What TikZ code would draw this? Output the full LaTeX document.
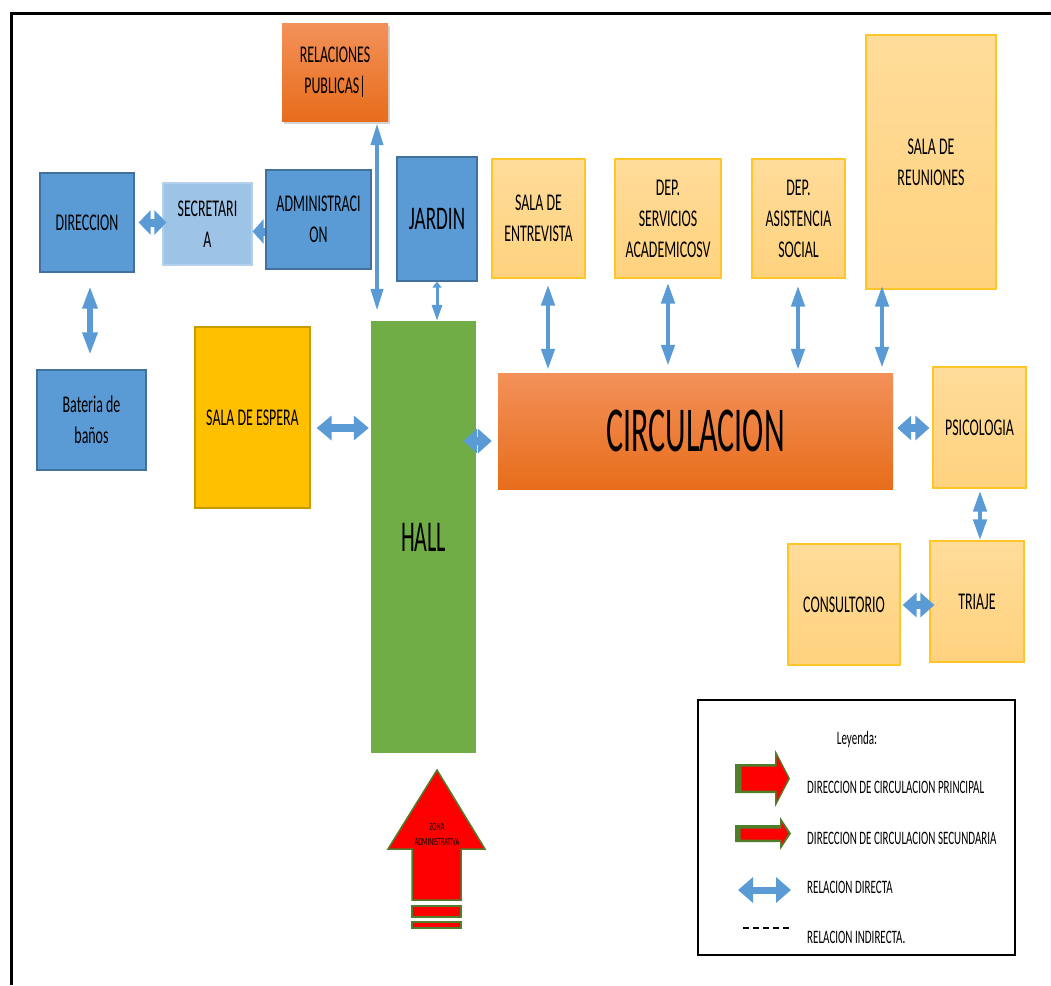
\documentclass[tikz,border=0pt]{standalone}
\usepackage{fontspec}
\setmainfont[FakeStretch=0.58]{Carlito}
\newfontfamily\bigfont[FakeStretch=0.5]{Carlito}
\usetikzlibrary{arrows.meta,shadows,positioning}

\definecolor{boxblue}{HTML}{5B9BD5}
\definecolor{boxblueline}{HTML}{41719C}
\definecolor{lightblue}{HTML}{9DC3E6}
\definecolor{lightblueline}{HTML}{B4D1EC}
\definecolor{espyellow}{HTML}{FFC000}
\definecolor{espyellowline}{HTML}{C99A00}
\definecolor{peachtop}{HTML}{FFDC9A}
\definecolor{peachbottom}{HTML}{FFD27E}
\definecolor{peachline}{HTML}{FFC629}
\definecolor{orangetop}{HTML}{F3915A}
\definecolor{orangebottom}{HTML}{E76D1B}
\definecolor{hallgreen}{HTML}{70AD47}
\definecolor{relblue}{HTML}{5B9BD5}
\definecolor{arrowgreen}{HTML}{4F7F2A}

\tikzset{
	room/.style 2 args={rectangle, inner sep=0pt, align=center, minimum width=#1pt, minimum height=#2pt, font=\fontsize{24}{31}\selectfont},
	bluebox/.style={fill=boxblue, draw=boxblueline, line width=1.2pt},
	lightbluebox/.style={fill=lightblue, draw=lightblueline, line width=1.2pt},
	peachbox/.style={top color=peachtop, bottom color=peachbottom, draw=peachline, line width=1.2pt},
	orangebox/.style={top color=orangetop, bottom color=orangebottom},
	relh/.style={draw=relblue, line width=8pt, {Triangle[length=14pt,width=24pt]}-{Triangle[length=14pt,width=24pt]}},
	relv/.style={draw=relblue, line width=4.5pt, {Triangle[length=21pt,width=13pt]}-{Triangle[length=21pt,width=13pt]}},
	redarrow/.style={fill=red, draw=arrowgreen, line width=1.5pt, line join=miter},
	legtext/.style={inner sep=0pt, font=\fontsize{19}{23}\selectfont}
}

\begin{document}
\begin{tikzpicture}[x=1pt, y=-1pt]
	\useasboundingbox (0,0) rectangle (1051,985);
	\draw[line width=3pt] (11,985) -- (11,13) -- (1051,13);

	\node[room={106}{98}, orangebox, drop shadow={opacity=0.35, shadow xshift=2pt, shadow yshift=-3pt}] (rp) at (335,72) {RELACIONES\\PUBLICAS|};
	\node[room={94}{99}, bluebox] (dir) at (87,222.5) {DIRECCION};
	\node[room={89}{82}, lightbluebox] (sec) at (207.5,224) {SECRETARI\\A};
	\node[room={105}{99}, bluebox] (adm) at (318.5,219.5) {ADMINISTRACI\\ON};
	\node[room={80}{124}, bluebox, font=\fontsize{33}{38}\selectfont] (jar) at (437,219) {JARDIN};
	\node[room={93}{119}, peachbox] (ent) at (538.5,218.5) {SALA DE\\ENTREVISTA};
	\node[room={106}{119}, peachbox] (ser) at (668,218.5) {DEP.\\SERVICIOS\\ACADEMICOSV};
	\node[room={93}{119}, peachbox] (asi) at (798.5,218.5) {DEP.\\ASISTENCIA\\SOCIAL};
	\node[room={130}{254}, peachbox] (reu) at (931,162) {SALA DE\\REUNIONES};
	\node[room={109}{100}, bluebox] (bat) at (91.5,420) {Bateria de\\baños};
	\node[room={115}{181}, fill=espyellow, draw=espyellowline, line width=1.2pt] (esp) at (252.5,417.5) {SALA DE ESPERA};
	\node[room={105}{432}, fill=hallgreen, font=\bigfont\fontsize{44}{50}\selectfont] (hall) at (423.5,537) {HALL};
	\node[room={395}{116}, orangebox, font=\bigfont\fontsize{64}{70}\selectfont] (circ) at (695.5,431) {CIRCULACION};
	\node[room={93}{121}, peachbox] (psi) at (979.5,427.5) {PSICOLOGIA};
	\node[room={94}{121}, peachbox] (tri) at (977,601.5) {TRIAJE};
	\node[room={112}{121}, peachbox] (con) at (844,604.5) {CONSULTORIO};

	\draw[relh, {Triangle[length=12pt,width=24pt]}-{Triangle[length=12pt,width=24pt]}] ([xshift=4pt]dir.east) -- ([xshift=4pt]dir.east -| sec.west);
	\draw[relh, -{Triangle[length=11pt,width=24pt]}] ([yshift=-12pt]adm.west) -- ([yshift=-12pt]adm.west -| sec.east);
	\draw[relv, line width=4pt, {Triangle[length=22pt,width=12pt]}-{Triangle[length=22pt,width=12pt]}] ([shift={(42,2)}]rp.south) -- ([shift={(-46.5,-10)}]hall.north);
	\draw[relv, line width=3pt, {Triangle[length=6pt,width=9pt]}-{Triangle[length=16pt,width=10pt]}] (jar.south) -- (jar.south |- hall.north);
	\draw[relv, line width=6pt, {Triangle[length=23pt,width=14pt]}-{Triangle[length=23pt,width=14pt]}] ([shift={(3,13)}]dir.south) -- ([shift={(3,-14)}]dir.south |- bat.north);
	\draw[relh, {Triangle[length=15pt,width=24pt]}-{Triangle[length=15pt,width=24pt]}] ([shift={(6,10.5)}]esp.east) -- ([shift={(-2,10.5)}]esp.east -| hall.west);
	\draw[relh] ([shift={(-13,10)}]circ.west -| hall.east) -- ([shift={(-6,10)}]circ.west);
	\draw[relv] ([shift={(9.5,6)}]ent.south) -- ([shift={(9.5,-3)}]ent.south |- circ.north);
	\draw[relv] ([shift={(0,4)}]ser.south) -- ([shift={(0,-7)}]ser.south |- circ.north);
	\draw[relv] ([shift={(-0.5,7)}]asi.south) -- ([shift={(-0.5,-3)}]asi.south |- circ.north);
	\draw[relv] ([shift={(-49,-4)}]reu.south) -- ([shift={(-49,-5)}]reu.south |- circ.north);
	\draw[relh] ([shift={(4,-3)}]circ.east) -- ([shift={(-3,-3)}]circ.east -| psi.west);
	\draw[relv] ([shift={(0.5,2)}]psi.south) -- ([shift={(0.5,0)}]psi.south |- tri.north);
	\draw[relh] ([shift={(2,0.5)}]con.east) -- ([shift={(5,0.5)}]con.east -| tri.west);

	\draw[redarrow] (412,900) -- (412,849) -- (388,849) -- (437,770) -- (485,849) -- (461,849) -- (461,900) -- cycle;
	\draw[redarrow] (412,906) rectangle (461,917);
	\draw[redarrow] (412,922) rectangle (461,928);
	\node[inner sep=0pt, align=center, font=\fontsize{11}{15}\selectfont] (zona) at (437,834) {ZONA\\ADMINISTRATIVA};

	\node[draw, line width=2pt, minimum width=317pt, minimum height=255pt] (ley) at (856.5,827.5) {};
	\node[legtext] (leyt) at (857,739) {Leyenda:};
	\fill[arrowgreen] (735,764) -- (775,764) -- (775,750) -- (790,778.5) -- (775,807) -- (775,793) -- (735,793) -- cycle;
	\draw[redarrow, line width=1pt] (741,766) -- (776,766) -- (776,753) -- (789,778.5) -- (776,804) -- (776,791) -- (741,791) -- cycle;
	\fill[arrowgreen] (735,825) -- (780,825) -- (780,817) -- (791,833.5) -- (780,850) -- (780,842) -- (735,842) -- cycle;
	\draw[redarrow, line width=1pt] (740,828) -- (781,828) -- (781,820) -- (789,833.5) -- (781,847) -- (781,840) -- (740,840) -- cycle;
	\draw[relh, line width=7pt, {Triangle[length=15pt,width=25pt]}-{Triangle[length=15pt,width=25pt]}] (738,890) -- (791,890);
	\draw[line width=1.5pt, dash pattern=on 6pt off 4pt] (743,928) -- (789,928);
	\node[legtext, anchor=west] (lprin) at (807,787) {DIRECCION DE CIRCULACION PRINCIPAL};
	\node[legtext, anchor=west] (lsec) at (807,838) {DIRECCION DE CIRCULACION SECUNDARIA};
	\node[legtext, anchor=west] (ldir) at (807,887) {RELACION DIRECTA};
	\node[legtext, anchor=west] (lind) at (807,937) {RELACION INDIRECTA.};
\end{tikzpicture}
\end{document}
